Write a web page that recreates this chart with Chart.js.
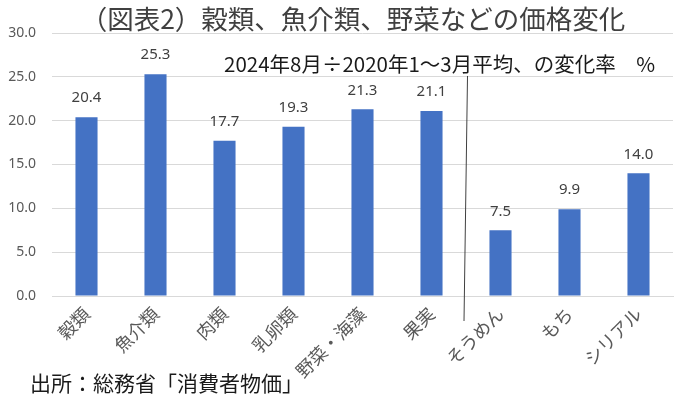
<!DOCTYPE html>
<html><head><meta charset="utf-8">
<script src="https://cdn.jsdelivr.net/npm/chart.js@4"></script>
<style>html,body{margin:0;padding:0;background:#fff}#wrap{width:680px;height:395px;position:relative}</style>
</head><body><div id="wrap"><canvas id="c" width="680" height="395"></canvas></div>
<script>
const categories = ["穀類","魚介類","肉類","乳卵類","野菜・海藻","果実","そうめん","もち","シリアル"];
const values = [20.4, 25.3, 17.7, 19.3, 21.3, 21.1, 7.5, 9.9, 14.0];
const yTicks = [0, 5, 10, 15, 20, 25, 30];
const titleText = "（図表2）穀類、魚介類、野菜などの価格変化";
const noteText = "2024年8月÷2020年1～3月平均、の変化率　%";
const sourceText = "出所：総務省「消費者物価」";
const JP = '"Noto Sans CJK JP", "Noto Sans", sans-serif';
const NUM = '"Noto Sans", "Open Sans", sans-serif';

const overlay = {
  id: 'overlay',
  afterDatasetsDraw(chart) {
    const ctx = chart.ctx;
    const x = chart.scales.x, y = chart.scales.y;
    const meta = chart.getDatasetMeta(0);
    ctx.save();
    ctx.fillStyle = '#404040';
    ctx.font = '15px ' + NUM;
    ctx.textAlign = 'center';
    ctx.textBaseline = 'middle';
    meta.data.forEach((bar, i) => {
      ctx.fillText(values[i].toFixed(1), bar.x, bar.y - 19);
    });
    // separator line
    const sx = x.getPixelForValue(5.5);
    ctx.strokeStyle = '#404040';
    ctx.lineWidth = 1;
    ctx.beginPath();
    ctx.moveTo(sx + 1.5, y.getPixelForValue(25.1));
    ctx.lineTo(sx - 2, y.bottom + 25);
    ctx.stroke();
    // title
    ctx.fillStyle = '#404040';
    ctx.font = '26.5px ' + JP;
    ctx.textAlign = 'center';
    ctx.fillText(titleText, 353, 19);
    // note
    ctx.fillStyle = '#1a1a1a';
    ctx.font = '20.5px ' + JP;
    ctx.textAlign = 'left';
    ctx.fillText(noteText, 224, 64);
    // source
    ctx.font = '21px ' + JP;
    ctx.fillText(sourceText, 30, 383);
    ctx.restore();
  }
};

new Chart(document.getElementById('c'), {
  type: 'bar',
  data: { labels: categories, datasets: [{ data: values, backgroundColor: '#4472C4', barPercentage: 0.32, categoryPercentage: 1.0 }] },
  options: {
    responsive: false, animation: false, devicePixelRatio: 1,
    layout: { padding: { top: 33, right: 7, left: 0, bottom: 0 } },
    plugins: { legend: { display: false }, title: { display: false }, tooltip: { enabled: false } },
    scales: {
      x: {
        grid: { display: false, drawTicks: false },
        border: { display: true, color: '#d9d9d9' },
        ticks: { color: '#595959', font: { family: JP, size: 18 }, minRotation: 45, maxRotation: 45, padding: 7 },
        afterFit(s) { s.height = 99; }
      },
      y: {
        min: 0, max: 30,
        afterBuildTicks(s) { s.ticks = yTicks.map(v => ({ value: v })); },
        grid: { color: '#d9d9d9', drawTicks: false },
        border: { display: false },
        ticks: { color: '#595959', font: { family: NUM, size: 14 }, padding: 16, callback: v => v.toFixed(1) },
        afterFit(s) { s.width = 52; }
      }
    }
  },
  plugins: [overlay]
});
</script></body></html>
